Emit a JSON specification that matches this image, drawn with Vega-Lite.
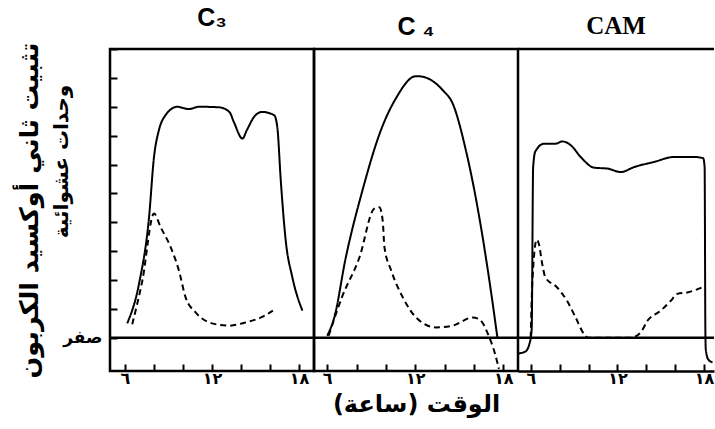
{
  "$schema": "https://vega.github.io/schema/vega-lite/v6.json",
  "background": "white",
  "padding": {"left": 15, "top": 4, "right": 0, "bottom": 0},
  "spacing": 0,
  "bounds": "flush",
  "config": {
    "view": {"stroke": "black", "strokeWidth": 2.5},
    "title": {"fontSize": 25, "font": "Liberation Sans", "fontWeight": "bold", "color": "black", "offset": 9},
    "axis": {"grid": false, "domain": false, "tickColor": "black", "tickWidth": 2, "labelColor": "black", "titleColor": "black", "labelOverlap": false, "tickCount": 20}
  },
  "data": {"values": [
    {"panel": "C3", "series": "solid", "hour": 6.16, "value": 0.5},
    {"panel": "C3", "series": "solid", "hour": 6.97, "value": 1.87},
    {"panel": "C3", "series": "solid", "hour": 7.66, "value": 4.17},
    {"panel": "C3", "series": "solid", "hour": 8.0, "value": 6.25},
    {"panel": "C3", "series": "solid", "hour": 8.34, "value": 7.19},
    {"panel": "C3", "series": "solid", "hour": 8.8, "value": 7.71},
    {"panel": "C3", "series": "solid", "hour": 9.6, "value": 8.0},
    {"panel": "C3", "series": "solid", "hour": 10.4, "value": 7.92},
    {"panel": "C3", "series": "solid", "hour": 11.1, "value": 8.0},
    {"panel": "C3", "series": "solid", "hour": 12.5, "value": 7.98},
    {"panel": "C3", "series": "solid", "hour": 13.2, "value": 7.82},
    {"panel": "C3", "series": "solid", "hour": 13.5, "value": 7.48},
    {"panel": "C3", "series": "solid", "hour": 14.1, "value": 6.9},
    {"panel": "C3", "series": "solid", "hour": 14.4, "value": 7.19},
    {"panel": "C3", "series": "solid", "hour": 15.0, "value": 7.71},
    {"panel": "C3", "series": "solid", "hour": 15.47, "value": 7.82},
    {"panel": "C3", "series": "solid", "hour": 16.28, "value": 7.71},
    {"panel": "C3", "series": "solid", "hour": 16.5, "value": 7.3},
    {"panel": "C3", "series": "solid", "hour": 16.74, "value": 5.45},
    {"panel": "C3", "series": "solid", "hour": 17.08, "value": 3.37},
    {"panel": "C3", "series": "solid", "hour": 17.54, "value": 2.09},
    {"panel": "C3", "series": "solid", "hour": 18.23, "value": 0.94},
    {"panel": "C3", "series": "dashed", "hour": 6.5, "value": 0.47},
    {"panel": "C3", "series": "dashed", "hour": 7.2, "value": 1.98},
    {"panel": "C3", "series": "dashed", "hour": 8.0, "value": 4.3},
    {"panel": "C3", "series": "dashed", "hour": 8.46, "value": 3.83},
    {"panel": "C3", "series": "dashed", "hour": 9.15, "value": 3.14},
    {"panel": "C3", "series": "dashed", "hour": 9.72, "value": 2.33},
    {"panel": "C3", "series": "dashed", "hour": 10.18, "value": 1.4},
    {"panel": "C3", "series": "dashed", "hour": 10.87, "value": 0.88},
    {"panel": "C3", "series": "dashed", "hour": 12.0, "value": 0.5},
    {"panel": "C3", "series": "dashed", "hour": 13.17, "value": 0.42},
    {"panel": "C3", "series": "dashed", "hour": 14.3, "value": 0.53},
    {"panel": "C3", "series": "dashed", "hour": 15.5, "value": 0.73},
    {"panel": "C3", "series": "dashed", "hour": 16.2, "value": 0.94},
    {"panel": "C4", "series": "solid", "hour": 6.0, "value": 0.07},
    {"panel": "C4", "series": "solid", "hour": 6.48, "value": 0.7},
    {"panel": "C4", "series": "solid", "hour": 7.27, "value": 2.79},
    {"panel": "C4", "series": "solid", "hour": 8.4, "value": 5.1},
    {"panel": "C4", "series": "solid", "hour": 9.66, "value": 7.19},
    {"panel": "C4", "series": "solid", "hour": 10.68, "value": 8.29},
    {"panel": "C4", "series": "solid", "hour": 12.05, "value": 9.06},
    {"panel": "C4", "series": "solid", "hour": 12.5, "value": 9.04},
    {"panel": "C4", "series": "solid", "hour": 13.86, "value": 8.58},
    {"panel": "C4", "series": "solid", "hour": 14.55, "value": 8.11},
    {"panel": "C4", "series": "solid", "hour": 15.45, "value": 6.49},
    {"panel": "C4", "series": "solid", "hour": 16.36, "value": 4.18},
    {"panel": "C4", "series": "solid", "hour": 17.05, "value": 1.98},
    {"panel": "C4", "series": "solid", "hour": 17.6, "value": 0.0},
    {"panel": "C4", "series": "dashed", "hour": 6.1, "value": 0.07},
    {"panel": "C4", "series": "dashed", "hour": 7.0, "value": 1.4},
    {"panel": "C4", "series": "dashed", "hour": 8.2, "value": 2.79},
    {"panel": "C4", "series": "dashed", "hour": 9.2, "value": 4.47},
    {"panel": "C4", "series": "dashed", "hour": 9.55, "value": 4.52},
    {"panel": "C4", "series": "dashed", "hour": 9.78, "value": 4.06},
    {"panel": "C4", "series": "dashed", "hour": 9.9, "value": 3.14},
    {"panel": "C4", "series": "dashed", "hour": 10.36, "value": 2.33},
    {"panel": "C4", "series": "dashed", "hour": 11.15, "value": 1.4},
    {"panel": "C4", "series": "dashed", "hour": 12.06, "value": 0.7},
    {"panel": "C4", "series": "dashed", "hour": 13.4, "value": 0.36},
    {"panel": "C4", "series": "dashed", "hour": 14.55, "value": 0.42},
    {"panel": "C4", "series": "dashed", "hour": 15.9, "value": 0.7},
    {"panel": "C4", "series": "dashed", "hour": 16.36, "value": 0.64},
    {"panel": "C4", "series": "dashed", "hour": 17.05, "value": 0.01},
    {"panel": "C4", "series": "dashed", "hour": 17.3, "value": -0.33},
    {"panel": "C4", "series": "dashed", "hour": 17.6, "value": -0.87},
    {"panel": "C4", "series": "dashed", "hour": 17.7, "value": -1.08},
    {"panel": "CAM", "series": "solid", "hour": 5.03, "value": -0.55},
    {"panel": "CAM", "series": "solid", "hour": 5.6, "value": -0.48},
    {"panel": "CAM", "series": "solid", "hour": 5.9, "value": -0.2},
    {"panel": "CAM", "series": "solid", "hour": 6.05, "value": 0.3},
    {"panel": "CAM", "series": "solid", "hour": 6.15, "value": 5.9},
    {"panel": "CAM", "series": "solid", "hour": 6.3, "value": 6.45},
    {"panel": "CAM", "series": "solid", "hour": 6.9, "value": 6.72},
    {"panel": "CAM", "series": "solid", "hour": 7.7, "value": 6.72},
    {"panel": "CAM", "series": "solid", "hour": 8.17, "value": 6.8},
    {"panel": "CAM", "series": "solid", "hour": 8.76, "value": 6.67},
    {"panel": "CAM", "series": "solid", "hour": 9.45, "value": 6.26},
    {"panel": "CAM", "series": "solid", "hour": 10.38, "value": 5.89},
    {"panel": "CAM", "series": "solid", "hour": 11.3, "value": 5.86},
    {"panel": "CAM", "series": "solid", "hour": 12.23, "value": 5.74},
    {"panel": "CAM", "series": "solid", "hour": 13.15, "value": 5.91},
    {"panel": "CAM", "series": "solid", "hour": 14.54, "value": 6.09},
    {"panel": "CAM", "series": "solid", "hour": 15.93, "value": 6.26},
    {"panel": "CAM", "series": "solid", "hour": 17.32, "value": 6.26},
    {"panel": "CAM", "series": "solid", "hour": 17.95, "value": 6.22},
    {"panel": "CAM", "series": "solid", "hour": 18.05, "value": 5.9},
    {"panel": "CAM", "series": "solid", "hour": 18.1, "value": 0.3},
    {"panel": "CAM", "series": "solid", "hour": 18.13, "value": -0.4},
    {"panel": "CAM", "series": "solid", "hour": 18.3, "value": -0.75},
    {"panel": "CAM", "series": "solid", "hour": 18.6, "value": -0.85},
    {"panel": "CAM", "series": "dashed", "hour": 5.98, "value": 0.0},
    {"panel": "CAM", "series": "dashed", "hour": 6.09, "value": 1.87},
    {"panel": "CAM", "series": "dashed", "hour": 6.4, "value": 3.4},
    {"panel": "CAM", "series": "dashed", "hour": 6.55, "value": 3.25},
    {"panel": "CAM", "series": "dashed", "hour": 6.78, "value": 2.56},
    {"panel": "CAM", "series": "dashed", "hour": 7.0, "value": 2.09},
    {"panel": "CAM", "series": "dashed", "hour": 7.8, "value": 1.75},
    {"panel": "CAM", "series": "dashed", "hour": 8.5, "value": 1.28},
    {"panel": "CAM", "series": "dashed", "hour": 9.1, "value": 0.7},
    {"panel": "CAM", "series": "dashed", "hour": 9.68, "value": 0.13},
    {"panel": "CAM", "series": "dashed", "hour": 10.0, "value": 0.0},
    {"panel": "CAM", "series": "dashed", "hour": 12.9, "value": 0.0},
    {"panel": "CAM", "series": "dashed", "hour": 13.6, "value": 0.18},
    {"panel": "CAM", "series": "dashed", "hour": 14.08, "value": 0.59},
    {"panel": "CAM", "series": "dashed", "hour": 15.0, "value": 0.94},
    {"panel": "CAM", "series": "dashed", "hour": 15.7, "value": 1.28},
    {"panel": "CAM", "series": "dashed", "hour": 16.16, "value": 1.52},
    {"panel": "CAM", "series": "dashed", "hour": 16.85, "value": 1.57},
    {"panel": "CAM", "series": "dashed", "hour": 17.9, "value": 1.75}
  ]},
  "hconcat": [
    {
      "width": 204, "height": 322,
      "title": {"text": "C₃"},
      "transform": [{"filter": "datum.panel === 'C3'"}],
      "resolve": {"axis": {"y": "independent"}},
      "layer": [
        {
          "mark": {"type": "line", "color": "black", "strokeWidth": 2, "interpolate": "monotone", "clip": true},
          "encoding": {
            "x": {"field": "hour", "type": "quantitative", "scale": {"domain": [4.97, 19.03], "nice": false, "zero": false},
              "axis": {"values": [6, 8, 10, 12, 14, 16, 18], "labelExpr": "datum.value == 6 ? '٦' : datum.value == 12 ? '١٢' : datum.value == 18 ? '١٨' : ''", "tickSize": -7, "labelPadding": 6, "labelFont": "DejaVu Sans", "labelFontWeight": "bold", "labelFontSize": 16, "title": null}},
            "y": {"field": "value", "type": "quantitative", "scale": {"domain": [-1.15, 10], "nice": false, "zero": false},
              "axis": {"orient": "left", "values": [0, 1, 2, 3, 4, 5, 6, 7, 8, 9, 10], "labelExpr": "datum.value == 0 ? 'صفر' : ''", "tickSize": -7, "labelPadding": 15, "labelFont": "DejaVu Sans", "labelFontWeight": "bold", "labelFontSize": 17,
                "title": "وحدات عشوائية", "titleFont": "DejaVu Sans", "titleFontWeight": "bold", "titleFontSize": 20, "titlePadding": -9, "titleY": 112}},
            "strokeDash": {"field": "series", "type": "nominal", "scale": {"domain": ["solid", "dashed"], "range": [[1, 0], [6, 4]]}, "legend": null}
          }
        },
        {
          "data": {"values": [{}]},
          "mark": {"type": "rule", "color": "black", "strokeWidth": 2.5},
          "encoding": {"y": {"datum": 0, "type": "quantitative",
            "axis": {"orient": "left", "offset": 64, "domain": false, "ticks": false, "labels": false, "title": "تثبيت ثاني أوكسيد الكربون", "titleFont": "DejaVu Sans", "titleFontWeight": "bold", "titleFontSize": 25.5, "titlePadding": 4}}}
        }
      ]
    },
    {
      "width": 204, "height": 322,
      "title": {"text": "C ₄"},
      "transform": [{"filter": "datum.panel === 'C4'"}],
      "layer": [
        {
          "mark": {"type": "line", "color": "black", "strokeWidth": 2, "interpolate": "monotone", "clip": true},
          "encoding": {
            "x": {"field": "hour", "type": "quantitative", "scale": {"domain": [5.1, 19.0], "nice": false, "zero": false},
              "axis": {"values": [6, 8, 10, 12, 14, 16, 18], "labelExpr": "datum.value == 6 ? '٦' : datum.value == 12 ? '١٢' : datum.value == 18 ? '١٨' : ''", "tickSize": -7, "labelPadding": 6, "labelFont": "DejaVu Sans", "labelFontWeight": "bold", "labelFontSize": 16,
                "title": "الوقت (ساعة)", "titleFont": "DejaVu Sans", "titleFontWeight": "bold", "titleFontSize": 24, "titlePadding": 6}},
            "y": {"field": "value", "type": "quantitative", "scale": {"domain": [-1.15, 10], "nice": false, "zero": false}, "axis": null},
            "strokeDash": {"field": "series", "type": "nominal", "scale": {"domain": ["solid", "dashed"], "range": [[1, 0], [6, 4]]}, "legend": null}
          }
        },
        {
          "data": {"values": [{}]},
          "mark": {"type": "rule", "color": "black", "strokeWidth": 2.5},
          "encoding": {"y": {"datum": 0}}
        }
      ]
    },
    {
      "width": 196, "height": 322,
      "view": {"stroke": null},
      "title": {"text": "CAM", "font": "Liberation Serif", "fontSize": 25},
      "transform": [{"filter": "datum.panel === 'CAM'"}],
      "layer": [
        {
          "mark": {"type": "line", "color": "black", "strokeWidth": 2, "interpolate": "monotone", "clip": true},
          "encoding": {
            "x": {"field": "hour", "type": "quantitative", "scale": {"domain": [5.1, 18.7], "nice": false, "zero": false},
              "axis": {"values": [6, 8, 10, 12, 14, 16, 18], "labelExpr": "datum.value == 6 ? '٦' : datum.value == 12 ? '١٢' : datum.value == 18 ? '١٨' : ''", "tickSize": -7, "labelPadding": 6, "labelFont": "DejaVu Sans", "labelFontWeight": "bold", "labelFontSize": 16, "title": null,
                "domain": true, "domainColor": "black", "domainWidth": 2.5}},
            "y": {"field": "value", "type": "quantitative", "scale": {"domain": [-1.15, 10], "nice": false, "zero": false}, "axis": null},
            "strokeDash": {"field": "series", "type": "nominal", "scale": {"domain": ["solid", "dashed"], "range": [[1, 0], [6, 4]]}, "legend": null}
          }
        },
        {
          "data": {"values": [{}]},
          "mark": {"type": "rule", "color": "black", "strokeWidth": 2.5},
          "encoding": {"y": {"datum": 0}}
        },
        {
          "data": {"values": [{}]},
          "mark": {"type": "rule", "color": "black", "strokeWidth": 2.5},
          "encoding": {"y": {"datum": 10}}
        }
      ]
    }
  ]
}
